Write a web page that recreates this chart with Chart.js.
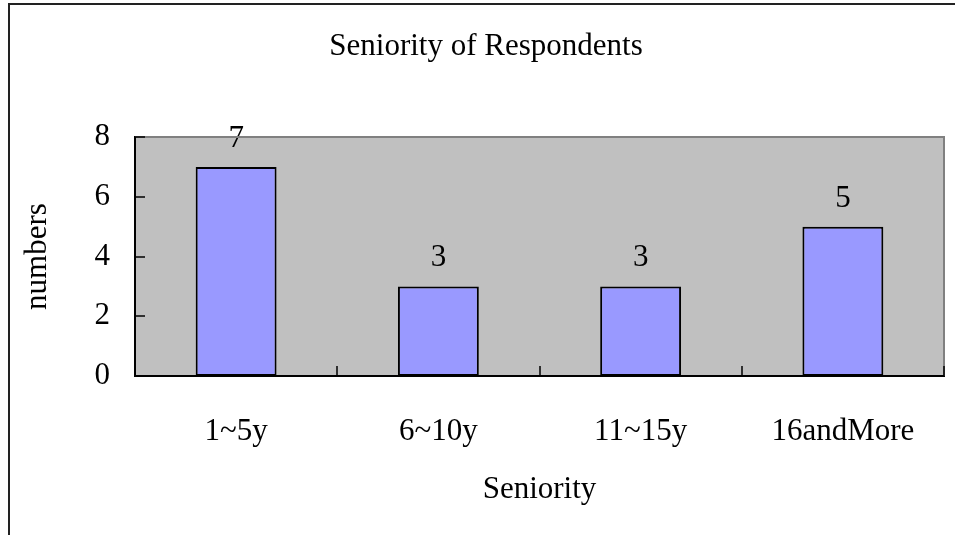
<!DOCTYPE html>
<html><head><meta charset="utf-8">
<script src="https://cdn.jsdelivr.net/npm/chart.js@4"></script>
<style>html,body{margin:0;padding:0;background:#fff;overflow:hidden}</style>
</head><body>
<canvas id="c" width="955" height="535"></canvas>
<script>
const categories = ['1~5y', '6~10y', '11~15y', '16andMore'];
const values = [7, 3, 3, 5];
const yTickValues = [0, 2, 4, 6, 8];
const chartTitle = 'Seniority of Respondents';
const xAxisTitle = 'Seniority';
const yAxisTitle = 'numbers';

const FONT = "'Liberation Serif', 'Times New Roman', serif";
const FS = 31;

const decor = {
  id: 'decor',
  beforeDraw(chart) {
    const {ctx, chartArea: a} = chart;
    ctx.save();
    ctx.fillStyle = '#C0C0C0';
    ctx.fillRect(a.left, a.top, a.right - a.left, a.bottom - a.top);
    // outer frame (left and top edges visible)
    ctx.strokeStyle = '#222';
    ctx.lineWidth = 2;
    ctx.beginPath();
    ctx.moveTo(9, 540); ctx.lineTo(9, 4); ctx.lineTo(960, 4);
    ctx.stroke();
    // chart title
    ctx.fillStyle = '#000';
    ctx.font = FS + 'px ' + FONT;
    ctx.textAlign = 'center';
    ctx.textBaseline = 'middle';
    ctx.fillText(chartTitle, 486, 47);
    ctx.restore();
  },
  afterDraw(chart) {
    const {ctx, chartArea: a, scales} = chart;
    ctx.save();
    ctx.strokeStyle = '#808080';
    ctx.lineWidth = 2;
    ctx.beginPath();
    ctx.moveTo(a.left, a.top); ctx.lineTo(a.right, a.top); ctx.lineTo(a.right, a.bottom);
    ctx.stroke();
    ctx.strokeStyle = '#000';
    ctx.lineWidth = 2;
    ctx.beginPath();
    ctx.moveTo(a.left, a.top); ctx.lineTo(a.left, a.bottom); ctx.lineTo(a.right, a.bottom);
    ctx.stroke();
    ctx.lineWidth = 1.5;
    ctx.beginPath();
    yTickValues.forEach(v => {
      const y = Math.round(scales.y.getPixelForValue(v));
      ctx.moveTo(a.left, y); ctx.lineTo(a.left + 10, y);
    });
    const n = categories.length;
    for (let i = 0; i <= n; i++) {
      const x = Math.round(scales.x.getPixelForValue(i - 0.5));
      ctx.moveTo(x, a.bottom); ctx.lineTo(x, a.bottom - 10);
    }
    ctx.stroke();
    ctx.restore();
  },
  afterDatasetsDraw(chart) {
    const {ctx} = chart;
    const meta = chart.getDatasetMeta(0);
    ctx.save();
    ctx.fillStyle = '#000';
    ctx.font = FS + 'px ' + FONT;
    ctx.textAlign = 'center';
    ctx.textBaseline = 'alphabetic';
    meta.data.forEach((bar, i) => {
      ctx.fillText(String(values[i]), bar.x, bar.y - 20);
    });
    ctx.restore();
  }
};

new Chart(document.getElementById('c'), {
  type: 'bar',
  data: {
    labels: categories,
    datasets: [{
      data: values,
      backgroundColor: '#9999FF',
      borderColor: '#000',
      borderWidth: 2,
      borderSkipped: false,
      categoryPercentage: 1,
      barPercentage: 0.4
    }]
  },
  options: {
    responsive: false,
    animation: false,
    devicePixelRatio: 1,
    layout: {padding: {left: 0, right: 11, top: 137, bottom: 0}},
    plugins: {
      legend: {display: false},
      tooltip: {enabled: false},
      title: {display: false}
    },
    scales: {
      x: {
        grid: {display: false, drawTicks: false, tickLength: 0},
        border: {display: true, color: '#000', width: 2},
        ticks: {color: '#000', font: {family: FONT, size: FS}, padding: 37, maxRotation: 0, autoSkip: false},
        title: {display: true, text: xAxisTitle, color: '#000', font: {family: FONT, size: FS, lineHeight: 1.2}, padding: {top: 0, bottom: 27}},
        afterFit(s) { s.height = 159; }
      },
      y: {
        min: 0, max: 8,
        grid: {display: false, drawTicks: false, tickLength: 0},
        border: {display: true, color: '#000', width: 2},
        ticks: {
          stepSize: 2, color: '#000', font: {family: FONT, size: FS}, padding: 25,
          callback: v => yTickValues.includes(v) ? String(v) : ''
        },
        title: {display: true, text: yAxisTitle, color: '#000', font: {family: FONT, size: FS, lineHeight: 1.2}, padding: {top: 19, bottom: 0}},
        afterFit(s) { s.width = 135; }
      }
    }
  },
  plugins: [decor]
});
</script>
</body></html>
